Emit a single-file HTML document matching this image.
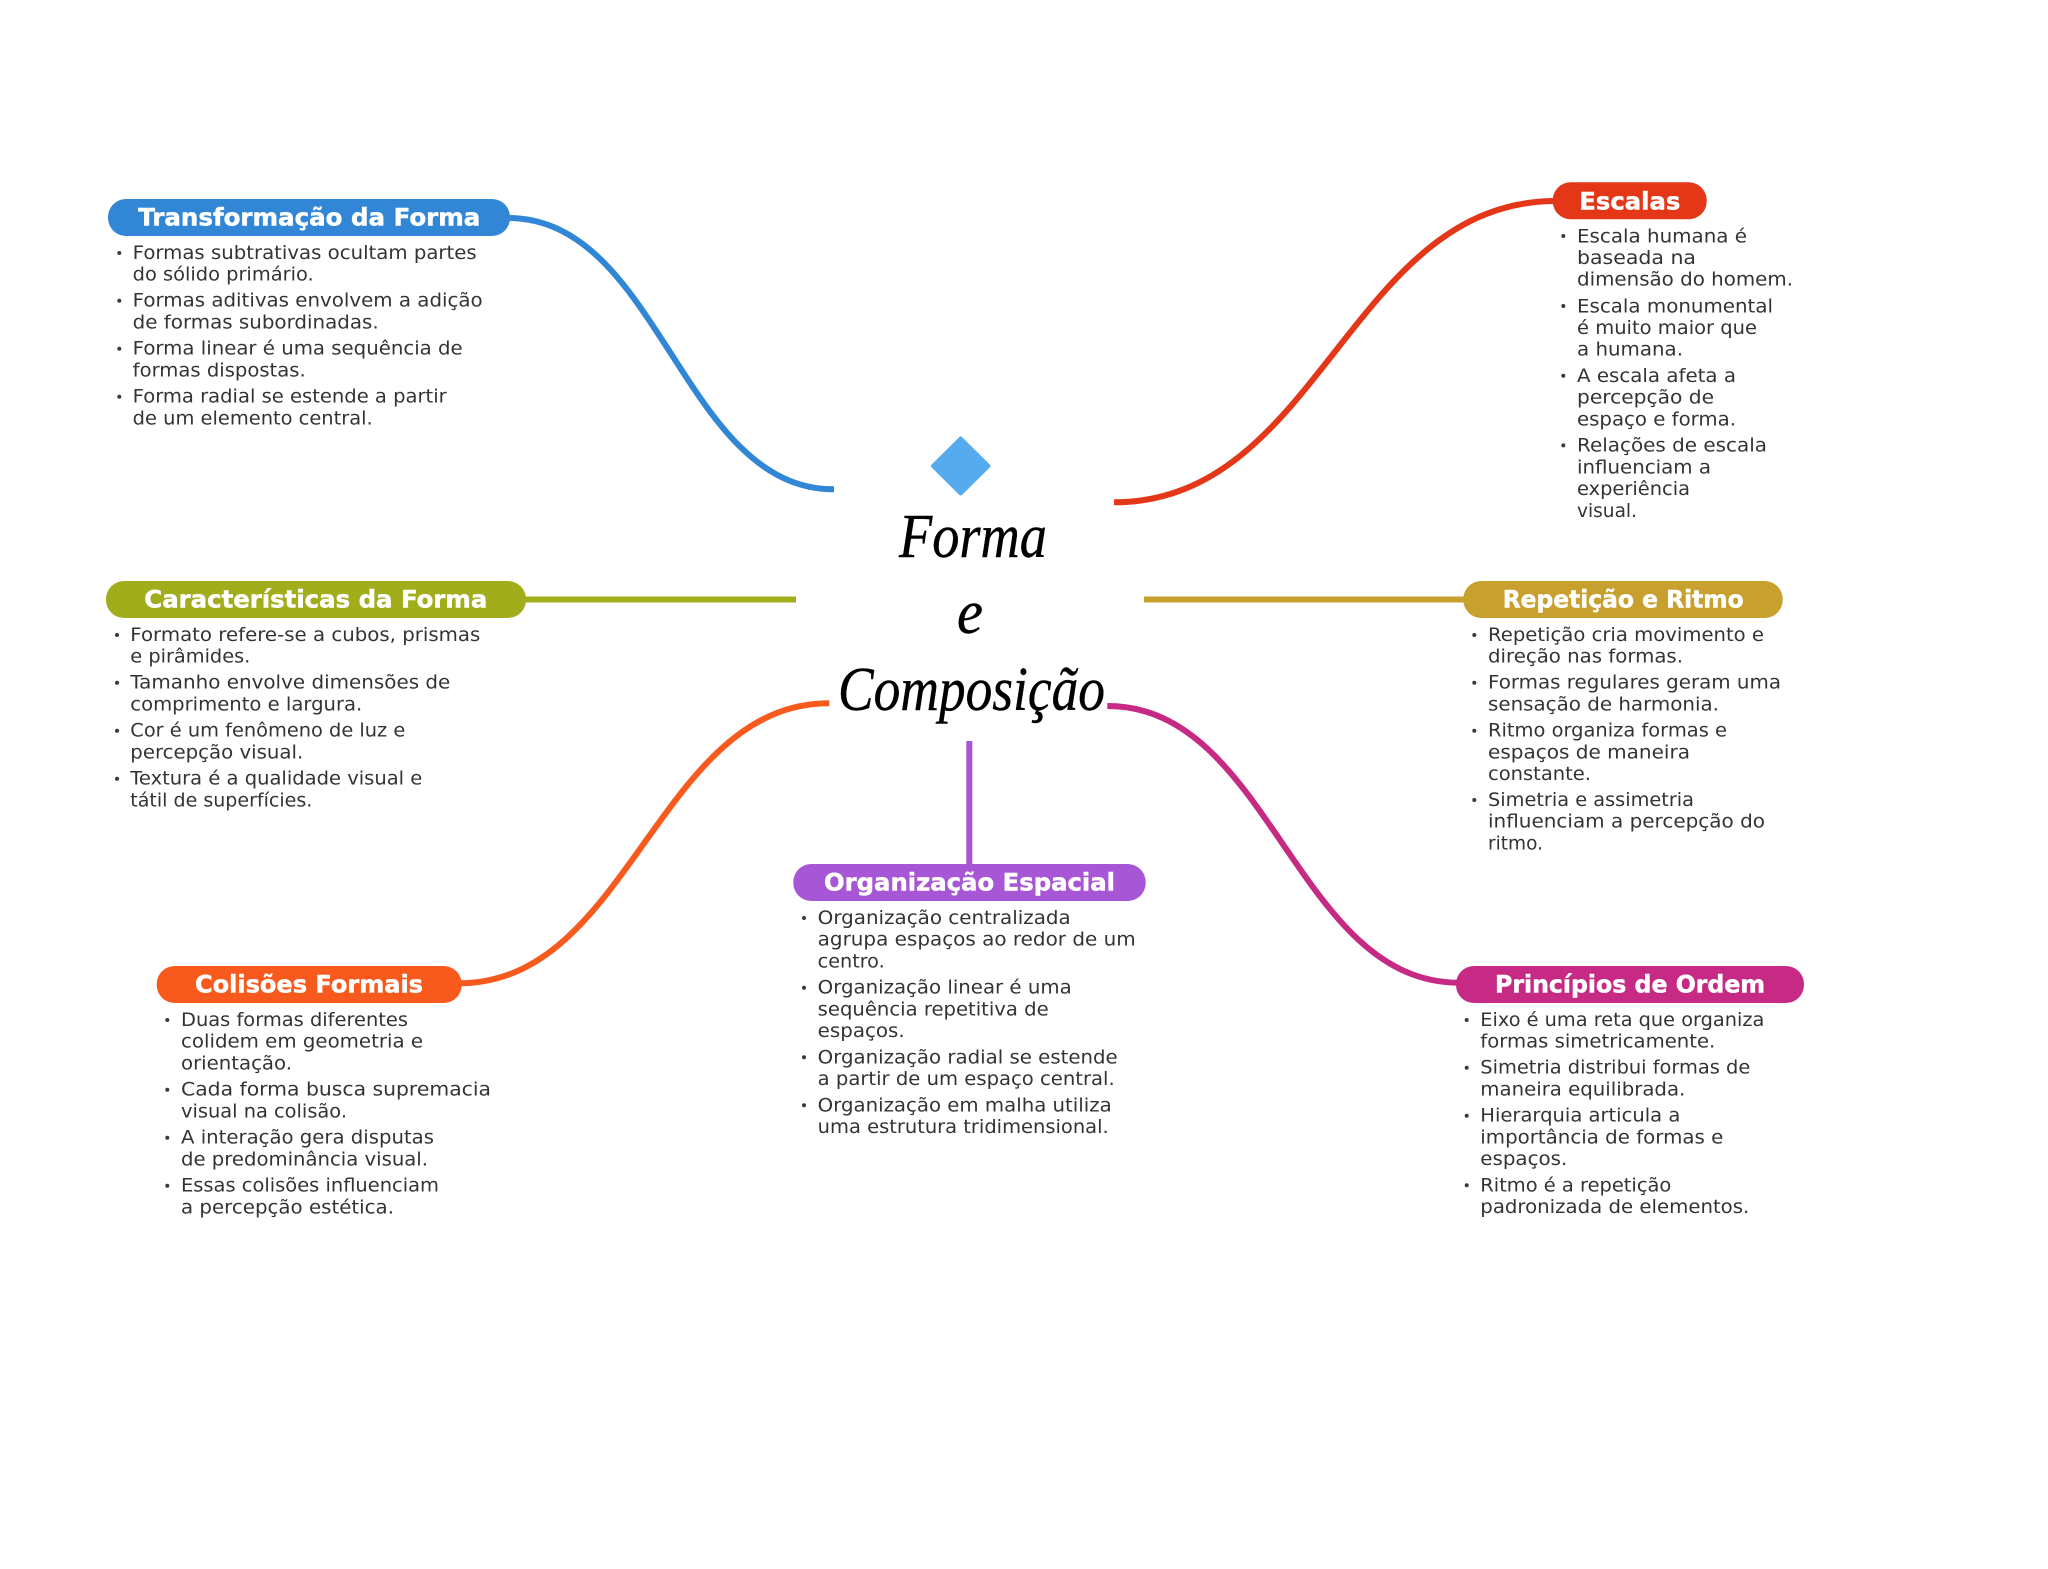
<!DOCTYPE html>
<html lang="pt"><head><meta charset="utf-8"><title>Forma e Composição</title>
<style>
html,body{margin:0;padding:0;background:#fff}
svg{display:block}
.t{font-family:"DejaVu Sans","Liberation Sans",sans-serif;font-size:19px;fill:#333}
.h{font-family:"DejaVu Sans","Liberation Sans",sans-serif;font-weight:700;font-size:24px;fill:#fff;stroke:#fff;stroke-width:.5}
.c{font-family:"Liberation Serif",serif;font-style:italic;font-size:62px;fill:#000;stroke:#000;stroke-width:.4}
.l{fill:none;stroke-width:6}
.b{fill:#3a3a3a}
</style></head><body>
<svg width="2048" height="1569" viewBox="0 0 2048 1569" xmlns="http://www.w3.org/2000/svg">
<rect width="2048" height="1569" fill="#fff"/>
<!-- connectors -->
<path class="l" stroke="#3286d6" d="M508 218C660 218 682 489.3 834 489.3"/>
<path class="l" stroke="#e33717" d="M1114 502.3C1320 502.3 1350 201 1556 201"/>
<path class="l" stroke="#a2ad1c" d="M524 599.5H796"/>
<path class="l" stroke="#c8a02d" d="M1144 599.5H1466"/>
<path class="l" stroke="#f85a1d" d="M829.3 703.3C658 703.3 630 983.3 459 983.3"/>
<path class="l" stroke="#c62a84" d="M1107.3 706C1270 706 1296 982.7 1459 982.7"/>
<path class="l" stroke="#a756d6" d="M969.3 741V866"/>
<!-- center -->
<path d="M960.7 436.2Q961.5 436.2 962 437L990 464.8Q991 466 990 467.2L962 495Q960.7 496 959.4 495L931.4 467.2Q930.4 466 931.4 464.8L959.4 437Q960 436.2 960.7 436.2Z" fill="#55abee"/>
<text class="c" x="899" y="557" textLength="148" lengthAdjust="spacingAndGlyphs">Forma</text>
<text class="c" x="957" y="633" textLength="26" lengthAdjust="spacingAndGlyphs">e</text>
<text class="c" x="838" y="710" textLength="267" lengthAdjust="spacingAndGlyphs">Composição</text>

<!-- Transformação -->
<rect x="108" y="199" width="402" height="37" rx="18" fill="#3286d6"/>
<text class="h" x="138.3" y="225.7" textLength="342" lengthAdjust="spacingAndGlyphs">Transformação da Forma</text>
<g class="b"><circle cx="119.3" cy="253" r="2"/><circle cx="119.3" cy="300.7" r="2"/><circle cx="119.3" cy="348.7" r="2"/><circle cx="119.3" cy="396.7" r="2"/></g>
<text class="t" x="132.7" y="259" textLength="344" lengthAdjust="spacingAndGlyphs">Formas subtrativas ocultam partes</text>
<text class="t" x="132.7" y="280.7" textLength="181" lengthAdjust="spacingAndGlyphs">do sólido primário.</text>
<text class="t" x="132.7" y="306.7" textLength="350" lengthAdjust="spacingAndGlyphs">Formas aditivas envolvem a adição</text>
<text class="t" x="132.7" y="328.3" textLength="246" lengthAdjust="spacingAndGlyphs">de formas subordinadas.</text>
<text class="t" x="132.7" y="354.7" textLength="330" lengthAdjust="spacingAndGlyphs">Forma linear é uma sequência de</text>
<text class="t" x="132.7" y="376.3" textLength="173" lengthAdjust="spacingAndGlyphs">formas dispostas.</text>
<text class="t" x="132.7" y="402.7" textLength="314" lengthAdjust="spacingAndGlyphs">Forma radial se estende a partir</text>
<text class="t" x="132.7" y="424.3" textLength="240" lengthAdjust="spacingAndGlyphs">de um elemento central.</text>

<!-- Características -->
<rect x="106" y="581" width="420" height="37" rx="18" fill="#a2ad1c"/>
<text class="h" x="144.3" y="607.7" textLength="343" lengthAdjust="spacingAndGlyphs">Características da Forma</text>
<g class="b"><circle cx="117" cy="635" r="2"/><circle cx="117" cy="682.7" r="2"/><circle cx="117" cy="730.7" r="2"/><circle cx="117" cy="778.7" r="2"/></g>
<text class="t" x="130.3" y="641" textLength="350" lengthAdjust="spacingAndGlyphs">Formato refere-se a cubos, prismas</text>
<text class="t" x="130.3" y="662.7" textLength="120" lengthAdjust="spacingAndGlyphs">e pirâmides.</text>
<text class="t" x="130.3" y="688.7" textLength="320" lengthAdjust="spacingAndGlyphs">Tamanho envolve dimensões de</text>
<text class="t" x="130.3" y="710.4" textLength="232" lengthAdjust="spacingAndGlyphs">comprimento e largura.</text>
<text class="t" x="130.3" y="736.7" textLength="275" lengthAdjust="spacingAndGlyphs">Cor é um fenômeno de luz e</text>
<text class="t" x="130.3" y="758.4" textLength="173" lengthAdjust="spacingAndGlyphs">percepção visual.</text>
<text class="t" x="130.3" y="784.7" textLength="292" lengthAdjust="spacingAndGlyphs">Textura é a qualidade visual e</text>
<text class="t" x="130.3" y="806.4" textLength="182" lengthAdjust="spacingAndGlyphs">tátil de superfícies.</text>

<!-- Escalas -->
<rect x="1552.7" y="182.3" width="154" height="37" rx="18" fill="#e33717"/>
<text class="h" x="1579.3" y="209.3" textLength="101" lengthAdjust="spacingAndGlyphs">Escalas</text>
<g class="b"><circle cx="1563.3" cy="236" r="2"/><circle cx="1563.3" cy="306" r="2"/><circle cx="1563.3" cy="375.7" r="2"/><circle cx="1563.3" cy="445.4" r="2"/></g>
<text class="t" x="1577" y="242.3" textLength="170" lengthAdjust="spacingAndGlyphs">Escala humana é</text>
<text class="t" x="1577" y="264" textLength="119" lengthAdjust="spacingAndGlyphs">baseada na</text>
<text class="t" x="1577" y="285.7" textLength="216" lengthAdjust="spacingAndGlyphs">dimensão do homem.</text>
<text class="t" x="1577" y="312.3" textLength="196" lengthAdjust="spacingAndGlyphs">Escala monumental</text>
<text class="t" x="1577" y="334" textLength="180" lengthAdjust="spacingAndGlyphs">é muito maior que</text>
<text class="t" x="1577" y="355.7" textLength="106" lengthAdjust="spacingAndGlyphs">a humana.</text>
<text class="t" x="1577" y="382" textLength="159" lengthAdjust="spacingAndGlyphs">A escala afeta a</text>
<text class="t" x="1577" y="403.7" textLength="137" lengthAdjust="spacingAndGlyphs">percepção de</text>
<text class="t" x="1577" y="425.4" textLength="159" lengthAdjust="spacingAndGlyphs">espaço e forma.</text>
<text class="t" x="1577" y="451.7" textLength="190" lengthAdjust="spacingAndGlyphs">Relações de escala</text>
<text class="t" x="1577" y="473.4" textLength="134" lengthAdjust="spacingAndGlyphs">influenciam a</text>
<text class="t" x="1577" y="495" textLength="113" lengthAdjust="spacingAndGlyphs">experiência</text>
<text class="t" x="1577" y="516.8" textLength="60" lengthAdjust="spacingAndGlyphs">visual.</text>

<!-- Repetição -->
<rect x="1463.3" y="581" width="319.4" height="37" rx="18" fill="#c8a02d"/>
<text class="h" x="1502.7" y="607.7" textLength="241" lengthAdjust="spacingAndGlyphs">Repetição e Ritmo</text>
<g class="b"><circle cx="1474.3" cy="635" r="2"/><circle cx="1474.3" cy="682.7" r="2"/><circle cx="1474.3" cy="730.7" r="2"/><circle cx="1474.3" cy="800" r="2"/></g>
<text class="t" x="1488" y="641" textLength="276" lengthAdjust="spacingAndGlyphs">Repetição cria movimento e</text>
<text class="t" x="1488" y="662.7" textLength="195" lengthAdjust="spacingAndGlyphs">direção nas formas.</text>
<text class="t" x="1488" y="688.7" textLength="293" lengthAdjust="spacingAndGlyphs">Formas regulares geram uma</text>
<text class="t" x="1488" y="710.4" textLength="231" lengthAdjust="spacingAndGlyphs">sensação de harmonia.</text>
<text class="t" x="1488" y="736.7" textLength="239" lengthAdjust="spacingAndGlyphs">Ritmo organiza formas e</text>
<text class="t" x="1488" y="758.4" textLength="202" lengthAdjust="spacingAndGlyphs">espaços de maneira</text>
<text class="t" x="1488" y="780" textLength="103" lengthAdjust="spacingAndGlyphs">constante.</text>
<text class="t" x="1488" y="806" textLength="206" lengthAdjust="spacingAndGlyphs">Simetria e assimetria</text>
<text class="t" x="1488" y="827.7" textLength="277" lengthAdjust="spacingAndGlyphs">influenciam a percepção do</text>
<text class="t" x="1488" y="849.4" textLength="55" lengthAdjust="spacingAndGlyphs">ritmo.</text>

<!-- Organização -->
<rect x="793.3" y="864" width="352.4" height="37" rx="18" fill="#a756d6"/>
<text class="h" x="824" y="890.7" textLength="291" lengthAdjust="spacingAndGlyphs">Organização Espacial</text>
<g class="b"><circle cx="804" cy="918" r="2"/><circle cx="804" cy="987.7" r="2"/><circle cx="804" cy="1057.3" r="2"/><circle cx="804" cy="1105.3" r="2"/></g>
<text class="t" x="817.7" y="924" textLength="253" lengthAdjust="spacingAndGlyphs">Organização centralizada</text>
<text class="t" x="817.7" y="945.7" textLength="318" lengthAdjust="spacingAndGlyphs">agrupa espaços ao redor de um</text>
<text class="t" x="817.7" y="967.4" textLength="67" lengthAdjust="spacingAndGlyphs">centro.</text>
<text class="t" x="817.7" y="993.7" textLength="254" lengthAdjust="spacingAndGlyphs">Organização linear é uma</text>
<text class="t" x="817.7" y="1015.4" textLength="231" lengthAdjust="spacingAndGlyphs">sequência repetitiva de</text>
<text class="t" x="817.7" y="1037" textLength="87" lengthAdjust="spacingAndGlyphs">espaços.</text>
<text class="t" x="817.7" y="1063.3" textLength="300" lengthAdjust="spacingAndGlyphs">Organização radial se estende</text>
<text class="t" x="817.7" y="1085" textLength="297" lengthAdjust="spacingAndGlyphs">a partir de um espaço central.</text>
<text class="t" x="817.7" y="1111.3" textLength="294" lengthAdjust="spacingAndGlyphs">Organização em malha utiliza</text>
<text class="t" x="817.7" y="1133" textLength="291" lengthAdjust="spacingAndGlyphs">uma estrutura tridimensional.</text>

<!-- Colisões -->
<rect x="156.7" y="966" width="305" height="37" rx="18" fill="#f85a1d"/>
<text class="h" x="195" y="992.7" textLength="228" lengthAdjust="spacingAndGlyphs">Colisões Formais</text>
<g class="b"><circle cx="167.3" cy="1020" r="2"/><circle cx="167.3" cy="1089.7" r="2"/><circle cx="167.3" cy="1137.7" r="2"/><circle cx="167.3" cy="1185.7" r="2"/></g>
<text class="t" x="181" y="1026" textLength="227" lengthAdjust="spacingAndGlyphs">Duas formas diferentes</text>
<text class="t" x="181" y="1047.7" textLength="242" lengthAdjust="spacingAndGlyphs">colidem em geometria e</text>
<text class="t" x="181" y="1069.4" textLength="111" lengthAdjust="spacingAndGlyphs">orientação.</text>
<text class="t" x="181" y="1095.7" textLength="310" lengthAdjust="spacingAndGlyphs">Cada forma busca supremacia</text>
<text class="t" x="181" y="1117.4" textLength="166" lengthAdjust="spacingAndGlyphs">visual na colisão.</text>
<text class="t" x="181" y="1143.7" textLength="253" lengthAdjust="spacingAndGlyphs">A interação gera disputas</text>
<text class="t" x="181" y="1165.4" textLength="247" lengthAdjust="spacingAndGlyphs">de predominância visual.</text>
<text class="t" x="181" y="1191.7" textLength="258" lengthAdjust="spacingAndGlyphs">Essas colisões influenciam</text>
<text class="t" x="181" y="1213.4" textLength="213" lengthAdjust="spacingAndGlyphs">a percepção estética.</text>

<!-- Princípios -->
<rect x="1456" y="966" width="348" height="37" rx="18" fill="#c62a84"/>
<text class="h" x="1495" y="992.7" textLength="270" lengthAdjust="spacingAndGlyphs">Princípios de Ordem</text>
<g class="b"><circle cx="1466.7" cy="1020" r="2"/><circle cx="1466.7" cy="1067.7" r="2"/><circle cx="1466.7" cy="1115.7" r="2"/><circle cx="1466.7" cy="1185.3" r="2"/></g>
<text class="t" x="1480.3" y="1026" textLength="284" lengthAdjust="spacingAndGlyphs">Eixo é uma reta que organiza</text>
<text class="t" x="1480.3" y="1047.7" textLength="235" lengthAdjust="spacingAndGlyphs">formas simetricamente.</text>
<text class="t" x="1480.3" y="1073.7" textLength="270" lengthAdjust="spacingAndGlyphs">Simetria distribui formas de</text>
<text class="t" x="1480.3" y="1095.4" textLength="205" lengthAdjust="spacingAndGlyphs">maneira equilibrada.</text>
<text class="t" x="1480.3" y="1121.7" textLength="200" lengthAdjust="spacingAndGlyphs">Hierarquia articula a</text>
<text class="t" x="1480.3" y="1143.4" textLength="243" lengthAdjust="spacingAndGlyphs">importância de formas e</text>
<text class="t" x="1480.3" y="1165" textLength="87" lengthAdjust="spacingAndGlyphs">espaços.</text>
<text class="t" x="1480.3" y="1191.3" textLength="191" lengthAdjust="spacingAndGlyphs">Ritmo é a repetição</text>
<text class="t" x="1480.3" y="1213" textLength="269" lengthAdjust="spacingAndGlyphs">padronizada de elementos.</text>
</svg>
</body></html>
